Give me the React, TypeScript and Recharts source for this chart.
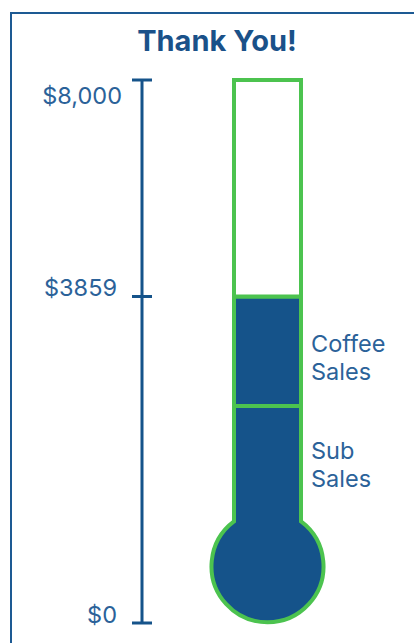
import { BarChart, Bar, XAxis, YAxis, ReferenceLine } from 'recharts';

const categories = ['Fundraiser'];
const subSales = [1765];
const coffeeSales = [2094];
const goals = [8000];
const axisTicks = [0, 8000];
const axisTickLabels = ['$0', '$8,000'];
const subLabel = ['Sub', 'Sales'];
const coffeeLabel = ['Coffee', 'Sales'];
// part of the tube scale that sits inside the bulb, below the $0 level
const bulbReserve = 2385;

const NAVY = '#15538a';
const GREEN = '#4cc34f';
const TEXT = '#2b6299';
const FRAME = '#1d5a93';
const LABEL_SIZE = 23.5;

const data = categories.map((name, i) => ({
  name,
  sub: subSales[i],
  coffee: coffeeSales[i],
  rest: goals[i] - subSales[i] - coffeeSales[i],
}));

const raised = subSales[0] + coffeeSales[0];
const goal = goals[0];

const AxisTick = (props: any) => {
  const { x, y, payload } = props;
  const isTop = payload.value === goal;
  const label = axisTickLabels[axisTicks.indexOf(payload.value)];
  return (
    <g>
      <line x1={x - 10} x2={x + 10} y1={y} y2={y} stroke={NAVY} strokeWidth={3} />
      <text
        x={isTop ? x - 20 : x - 25}
        y={isTop ? y + 24 : y}
        textAnchor="end"
        fill={TEXT}
        fontSize={LABEL_SIZE}
      >
        {label}
      </text>
    </g>
  );
};

const RaisedMarker = (props: any) => {
  const { x1, x2, y1 } = props;
  const ax = Math.min(x1, x2);
  return (
    <g>
      <line x1={ax - 10} x2={ax + 10} y1={y1} y2={y1} stroke={NAVY} strokeWidth={3} />
      <text x={ax - 25} y={y1 - 1} textAnchor="end" fill={TEXT} fontSize={LABEL_SIZE}>
        {`$${raised}`}
      </text>
    </g>
  );
};

const BulbShape = (props: any) => {
  const { x, y, width, height } = props;
  const r = 56;
  const cy = y + height + 68;
  const half = width / 2;
  const yj = cy - Math.sqrt(r * r - half * half);
  const d = `M${x},${y} L${x},${yj} A${r},${r} 0 1 0 ${x + width},${yj} L${x + width},${y} Z`;
  return <path d={d} fill={NAVY} stroke={GREEN} strokeWidth={4} />;
};

const sideLabel = (lines: string[], dy: number) => (props: any) => {
  const { x, y, width } = props;
  return (
    <text x={x + width + 10} y={y + dy} fill={TEXT} fontSize={LABEL_SIZE}>
      {lines.map((t, i) => (
        <tspan key={t + i} x={x + width + 10} dy={i === 0 ? 0 : 28.5}>
          {t}
        </tspan>
      ))}
    </text>
  );
};

export default function App() {
  return (
    <div
      style={{
        position: 'absolute',
        left: 0,
        top: 0,
        width: 414,
        height: 643,
        overflow: 'hidden',
        fontFamily: 'Inter, sans-serif',
        background: '#fff',
      }}
    >
      <div
        style={{
          position: 'absolute',
          left: 10,
          top: 12,
          width: 440,
          height: 680,
          border: `2px solid ${FRAME}`,
          boxSizing: 'border-box',
        }}
      />
      <div
        style={{
          position: 'absolute',
          left: 10,
          top: 26,
          width: 414,
          textAlign: 'center',
          fontSize: 29,
          lineHeight: '29px',
          fontWeight: 700,
          color: '#1a5189',
        }}
      >
        Thank You!
      </div>
      <div style={{ position: 'absolute', left: 0, top: 0 }}>
        <BarChart
          width={414}
          height={643}
          data={data}
          margin={{ top: 80, right: 22, bottom: 20, left: 0 }}
          barSize={67}
        >
          <XAxis dataKey="name" hide />
          <YAxis
            yAxisId="axis"
            domain={[0, goal]}
            allowDataOverflow
            ticks={axisTicks}
            width={142}
            tickSize={0}
            tickMargin={0}
            tickLine={false}
            axisLine={{ stroke: NAVY, strokeWidth: 3 }}
            tick={<AxisTick />}
          />
          <YAxis yAxisId="tube" orientation="right" hide domain={[-bulbReserve, goal]} />
          <Bar
            yAxisId="tube"
            dataKey="sub"
            stackId="t"
            fill={NAVY}
            stroke={GREEN}
            strokeWidth={4}
            shape={<BulbShape />}
            label={sideLabel(subLabel, 52.5)}
            isAnimationActive={false}
          />
          <Bar
            yAxisId="tube"
            dataKey="coffee"
            stackId="t"
            fill={NAVY}
            stroke={GREEN}
            strokeWidth={4}
            label={sideLabel(coffeeLabel, 55)}
            isAnimationActive={false}
          />
          <Bar
            yAxisId="tube"
            dataKey="rest"
            stackId="t"
            fill="#ffffff"
            stroke={GREEN}
            strokeWidth={4}
            isAnimationActive={false}
          />
          <ReferenceLine yAxisId="tube" y={raised} shape={<RaisedMarker />} />
        </BarChart>
      </div>
    </div>
  );
}
